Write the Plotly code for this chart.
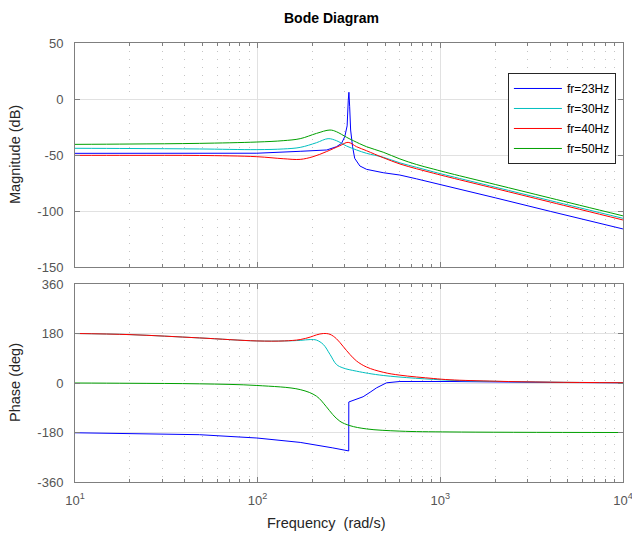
import plotly.graph_objects as go

# ---------------- data ----------------
series_names = ["fr=23Hz", "fr=30Hz", "fr=40Hz", "fr=50Hz"]
series_colors = ["#0000ff", "#00bfbf", "#ff0000", "#00a000"]

# Magnitude (dB)
w_mag_23 = [10, 20, 48, 99, 171, 239, 270, 288, 300, 309, 313.5, 316, 319, 323, 331, 340, 363, 395, 487, 601, 742, 915, 1130, 2000, 4000, 10000]
mag_23 = [-48.5, -48.6, -48.7, -48.4, -46.7, -45.5, -42.6, -39.6, -33.6, -24, -1, 6, -6.9, -27.7, -42.6, -53, -59.8, -62.8, -65.8, -67.9, -71.3, -74.8, -78.3, -88.2, -100.3, -116]

w_mag_30 = [10, 20, 48, 99, 138, 171, 210, 243, 270, 307, 348, 395, 487, 601, 742, 915, 1130, 2000, 4000, 10000]
mag_30 = [-44, -44.2, -44.6, -45.2, -44.6, -43.2, -39, -35.4, -37.2, -42, -45.5, -48.5, -52, -57, -61, -65, -68.8, -78.7, -90.7, -106.5]

w_mag_40 = [10, 20, 48, 99, 138, 171, 201, 238, 282, 313, 348, 395, 487, 601, 742, 915, 1130, 2000, 4000, 10000]
mag_40 = [-50.3, -50.3, -50.4, -51.5, -53.3, -53.9, -51.5, -47, -41.7, -38.7, -42.6, -46.2, -52.4, -58, -62.3, -66.2, -70, -79.9, -92, -108]

w_mag_50 = [10, 20, 48, 99, 138, 171, 210, 249, 270, 307, 334, 395, 487, 601, 742, 915, 1130, 2000, 4000, 10000]
mag_50 = [-40.5, -40.2, -39.6, -38.4, -37.2, -35.4, -30.7, -27.7, -29.2, -34.2, -37.2, -42.6, -47.5, -53.5, -58.5, -62.5, -66.4, -76.3, -88.4, -104.3]

# Phase (deg)
w_ph_23 = [10, 20, 48, 99, 171, 258, 307, 315.3, 315.6, 348, 378, 413, 448, 508, 601, 1130, 2000, 4000, 10000]
ph_23 = [-181, -183, -188, -200, -216, -236, -245, -247, -69, -60, -50, -33.5, -17.6, 0.7, 5.5, 5.5, 3.5, 2, 1]

w_ph_30 = [10, 20, 48, 99, 140, 171, 194, 210, 229, 249, 270, 293, 348, 487, 1130, 2000, 4000, 10000]
ph_30 = [180, 176, 164, 153, 153, 155, 158, 156, 140, 104, 67.5, 55, 43, 27.4, 10, 6, 3, 1]

w_ph_40 = [10, 20, 48, 99, 140, 171, 194, 210, 229, 249, 270, 293, 320, 348, 395, 487, 601, 915, 1130, 2000, 4000, 10000]
ph_40 = [180, 176, 164, 153, 153, 158, 167, 175, 180, 177, 161, 134, 104, 80, 58, 39, 28.5, 16.4, 11.7, 6.5, 3, 1]

w_ph_50 = [10, 20, 48, 99, 171, 210, 237, 258, 282, 320, 395, 601, 1130, 10000]
ph_50 = [0, -1, -3, -9, -24, -48, -85, -115, -139, -155, -167, -175, -178, -180]

mag_ticks = [50, 0, -50, -100, -150]
phase_ticks = [360, 180, 0, -180, -360]
freq_ticks = [10, 100, 1000, 10000]
freq_tick_text = ["10<sup>1</sup>", "10<sup>2</sup>", "10<sup>3</sup>", "10<sup>4</sup>"]

# ---------------- figure ----------------
mag_w = [w_mag_23, w_mag_30, w_mag_40, w_mag_50]
mag_v = [mag_23, mag_30, mag_40, mag_50]
ph_w = [w_ph_23, w_ph_30, w_ph_40, w_ph_50]
ph_v = [ph_23, ph_30, ph_40, ph_50]

fig = go.Figure()
for i in range(4):
    shape = "linear" if i == 0 else "spline"
    fig.add_trace(go.Scatter(x=mag_w[i], y=mag_v[i], mode="lines", name=series_names[i],
                             legendgroup="g%d" % i,
                             line=dict(color=series_colors[i], width=1, shape=shape),
                             xaxis="x", yaxis="y", showlegend=True))
for i in range(4):
    shape = "linear" if i == 0 else "spline"
    fig.add_trace(go.Scatter(x=ph_w[i], y=ph_v[i], mode="lines", name=series_names[i],
                             legendgroup="g%d" % i,
                             line=dict(color=series_colors[i], width=1, shape=shape),
                             xaxis="x2", yaxis="y2", showlegend=False))

minor_vals = [m * 10 ** e for e in range(1, 4) for m in range(2, 10)]

axis_color = "#7f7f7f"
grid_color = "#e1e1e1"
minor_grid = "#c4c4c4"
font_family = "Liberation Sans, Arial, sans-serif"
tick_font = dict(family=font_family, size=13, color="#555555")

def xaxis_common(show_labels, anchor):
    d = dict(
        type="log", range=[1, 4.0004], anchor=anchor,
        showline=True, linecolor=axis_color, linewidth=1, mirror="allticks",
        ticks="inside", ticklen=5, tickcolor=axis_color,
        tickmode="array", tickvals=freq_ticks,
        showticklabels=show_labels,
        showgrid=True, gridcolor=grid_color, gridwidth=1,
        minor=dict(tickmode="array", tickvals=minor_vals, ticks="inside", ticklen=3,
                   tickcolor=axis_color, showgrid=True, gridcolor=minor_grid,
                   griddash="1px,7px"),
        zeroline=False, tickfont=tick_font, ticklabelstandoff=6,
        ticklabeloverflow="allow", automargin=False,
    )
    if show_labels:
        d["ticktext"] = freq_tick_text
    return d

fig.update_layout(
    width=632, height=538,
    margin=dict(l=75, r=9, t=43, b=56, autoexpand=False),
    paper_bgcolor="white", plot_bgcolor="white",
    font=dict(family=font_family, color="#262626"),
    xaxis=dict(domain=[0, 1], **xaxis_common(False, "y")),
    xaxis2=dict(domain=[0, 1], **xaxis_common(True, "y2")),
    yaxis=dict(domain=[0.4897, 1], range=[-150, 50], anchor="x",
               showline=True, linecolor=axis_color, linewidth=1, mirror="allticks",
               ticks="inside", ticklen=5, tickcolor=axis_color,
               tickmode="array", tickvals=mag_ticks, ticktext=[str(v) for v in mag_ticks],
               showgrid=True, gridcolor=grid_color, zeroline=False, automargin=False,
               tickfont=tick_font, ticklabelstandoff=8),
    yaxis2=dict(domain=[0, 0.451], range=[-360, 360], anchor="x2",
                showline=True, linecolor=axis_color, linewidth=1, mirror="allticks",
                ticks="inside", ticklen=5, tickcolor=axis_color,
                tickmode="array", tickvals=phase_ticks, ticktext=[str(v) for v in phase_ticks],
                showgrid=True, gridcolor=grid_color, zeroline=False, automargin=False,
                tickfont=tick_font, ticklabelstandoff=8),
    legend=dict(x=0.79, y=0.9317, xanchor="left", yanchor="top",
                bgcolor="white", bordercolor="#262626", borderwidth=1,
                font=dict(family=font_family, size=12, color="#000000"),
                itemwidth=48, tracegroupgap=1),
    showlegend=True,
    annotations=[
        dict(text="<b>Bode Diagram</b>", xref="paper", yref="paper", x=(331 - 75) / 548,
             y=1 + 25 / 439, xanchor="center", yanchor="middle", showarrow=False,
             font=dict(size=14, color="#000000")),
        dict(text="Magnitude (dB)", xref="paper", yref="paper", x=-(75 - 15) / 548,
             y=(482 - 155) / 439, xanchor="center", yanchor="middle", textangle=-90,
             showarrow=False, font=dict(size=14.5, color="#262626")),
        dict(text="Phase (deg)", xref="paper", yref="paper", x=-(75 - 15) / 548,
             y=(482 - 383) / 439, xanchor="center", yanchor="middle", textangle=-90,
             showarrow=False, font=dict(size=14.5, color="#262626")),
        dict(text="Frequency  (rad/s)", xref="paper", yref="paper", x=(326 - 75) / 548,
             y=-(523 - 482) / 439, xanchor="center", yanchor="middle",
             showarrow=False, font=dict(size=14.5, color="#262626")),
    ],
)

fig.write_html("out.html")
